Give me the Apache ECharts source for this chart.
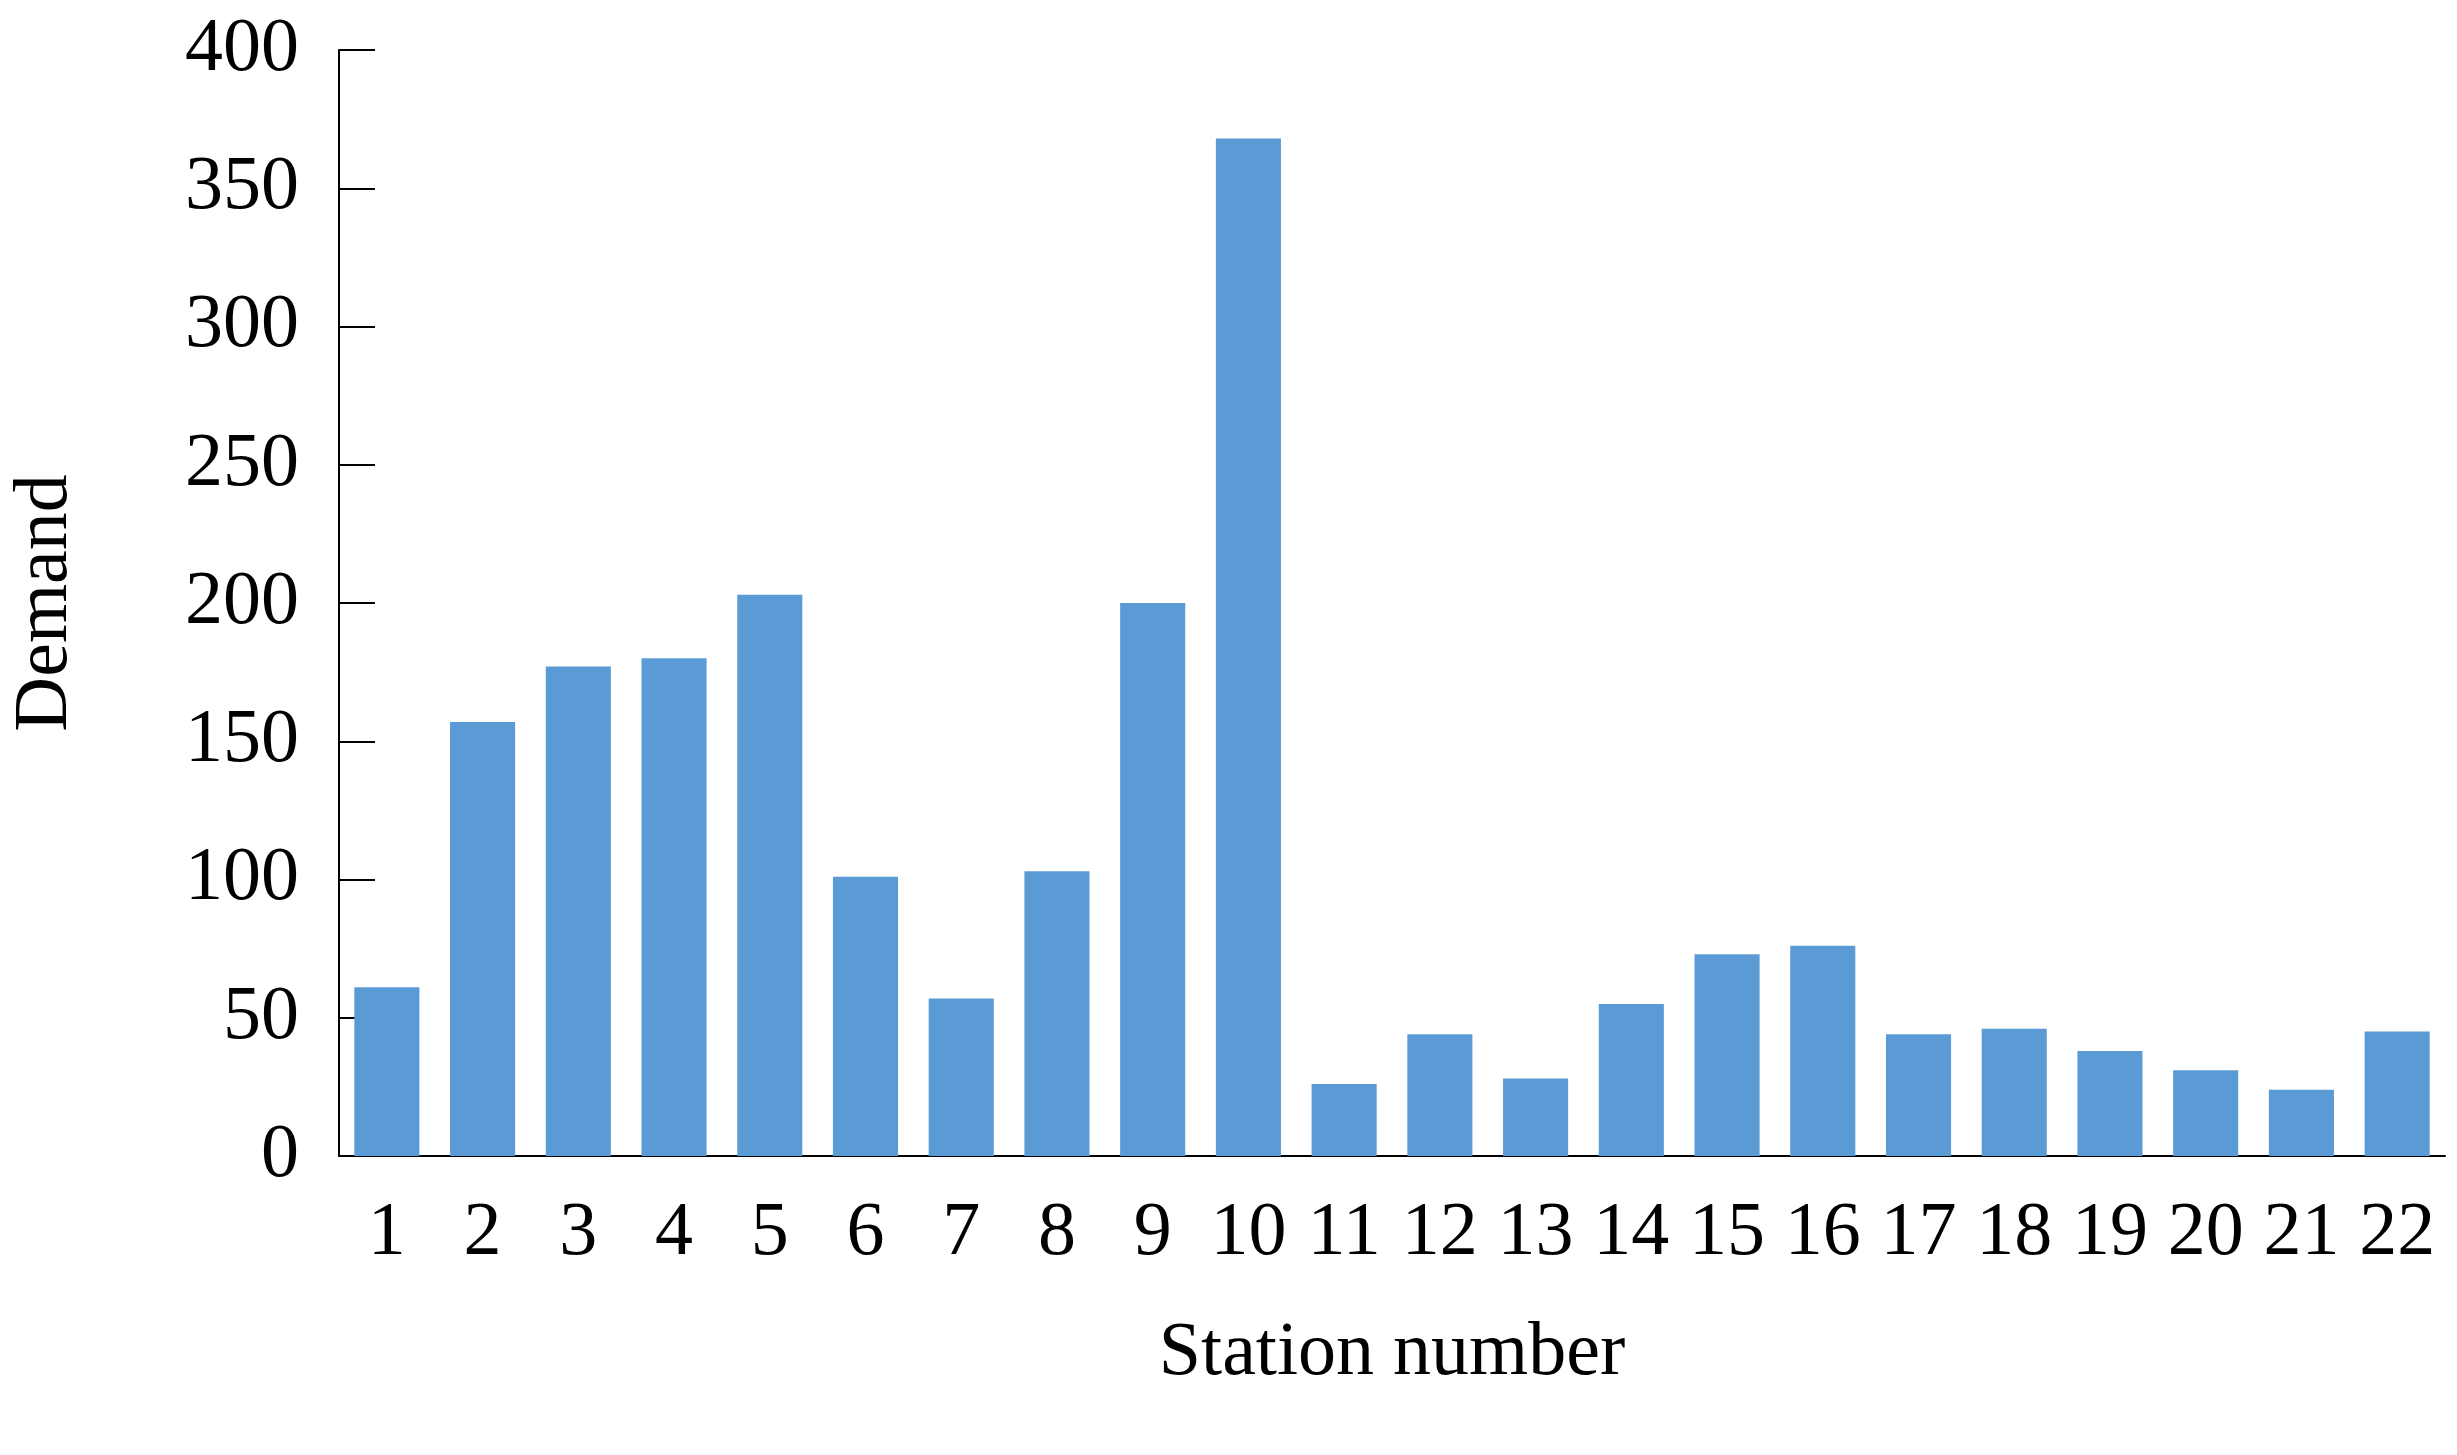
<!DOCTYPE html>
<html lang="en">
<head>
  <meta charset="UTF-8">
  <title>Station demand</title>
  <script src="https://cdn.jsdelivr.net/npm/echarts@6/dist/echarts.min.js"></script>
</head>
<body style="margin:0;background:#fff;">
  <div id="chart" style="width:2457px;height:1455px;"></div>
</body>
</html>
<script type="text/javascript">
  let stations = ['1','2','3','4','5','6','7','8','9','10','11','12','13','14','15','16','17','18','19','20','21','22'];
  let demand = [61, 157, 177, 180, 203, 101, 57, 103, 200, 368, 26, 44, 28, 55, 73, 76, 44, 46, 38, 31, 24, 45];

  let chart = echarts.init(document.getElementById('chart'));
  let font = 'Liberation Serif';
  chart.setOption({
    animation: false,
    grid: { left: 317, right: 12, top: 50, bottom: 299 },
    xAxis: {
      type: 'category',
      data: stations,
      name: 'Station number',
      nameLocation: 'middle',
      nameGap: 160,
      nameTextStyle: { fontFamily: font, fontSize: 76, color: '#000' },
      axisLine: { lineStyle: { color: '#000', width: 2 } },
      axisTick: { inside: true, length: 36, lineStyle: { color: '#000', width: 2 } },
      axisLabel: { fontFamily: font, fontSize: 76, color: '#000', margin: 40, interval: 0 }
    },
    yAxis: {
      type: 'value',
      min: 0, max: 400, interval: 50,
      name: 'Demand',
      nameLocation: 'middle',
      nameGap: 255,
      nameTextStyle: { fontFamily: font, fontSize: 76, color: '#000' },
      splitLine: { show: false },
      axisLine: { show: true, lineStyle: { color: '#000', width: 2 } },
      axisTick: { show: true, inside: true, length: 36, lineStyle: { color: '#000', width: 2 } },
      axisLabel: { fontFamily: font, fontSize: 76, color: '#000', margin: 40 }
    },
    series: [{
      type: 'bar',
      data: demand,
      barCategoryGap: '32%',
      itemStyle: { color: '#5B9BD5' }
    }]
  });
</script>
